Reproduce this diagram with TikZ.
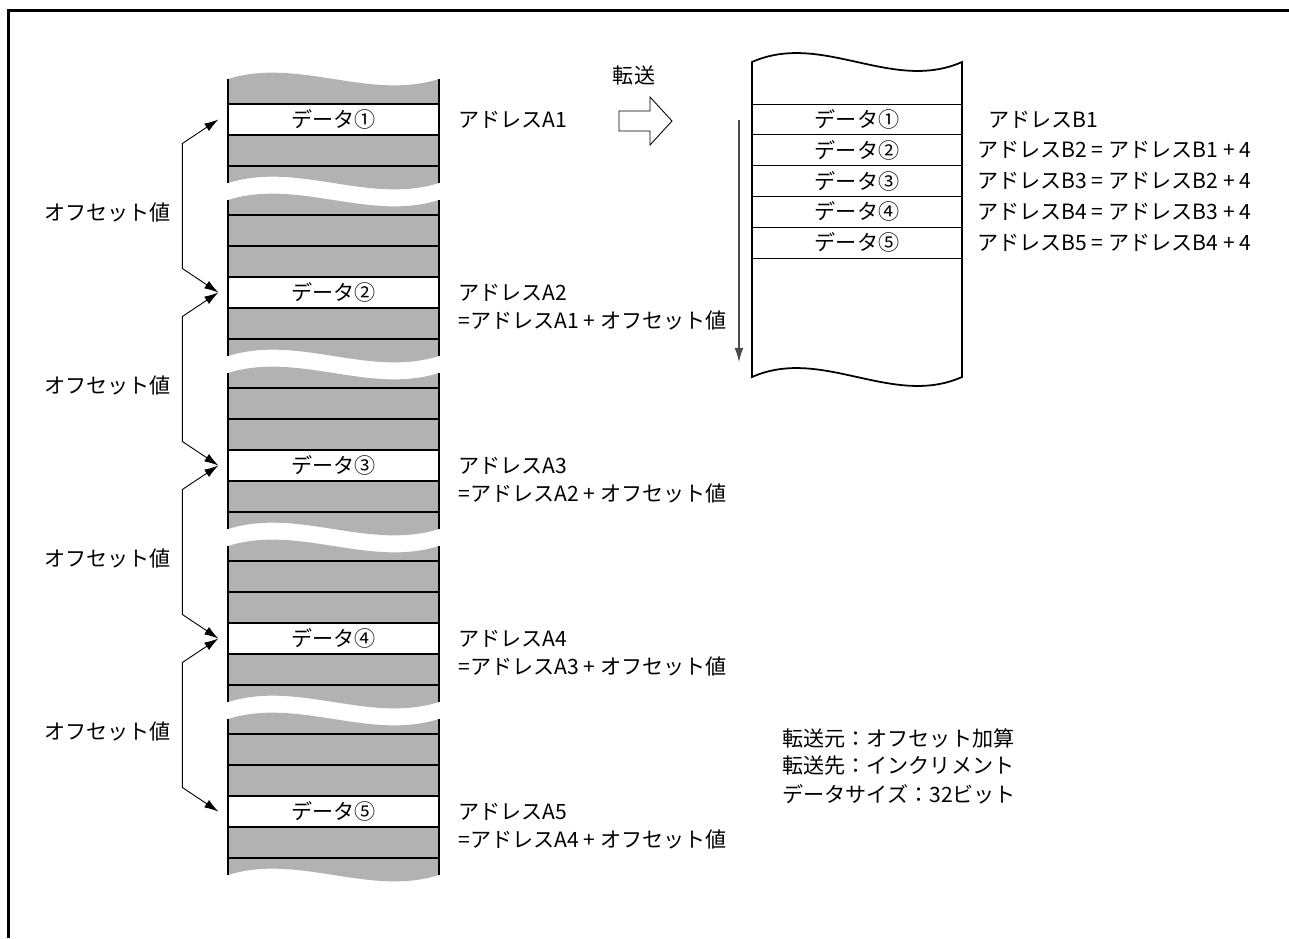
\documentclass[tikz,border=0pt]{standalone}
\usepackage{fontspec}
\setmainfont{Noto Sans CJK JP}
\usetikzlibrary{arrows.meta,positioning}

\begin{document}
\begin{tikzpicture}[x=0.02cm,y=-0.02cm,
  every node/.style={font=\fontsize{12}{14}\selectfont},
  datrow/.style={draw,line width=1pt,fill=white,minimum width=4.22cm,minimum height=0.62cm,inner sep=0pt},
  dstrow/.style={draw,line width=0.5pt,minimum width=4.2cm,minimum height=0.616cm,inner sep=0pt},
  ofsarr/.style={{Latex[length=8pt,width=5pt]}-{Latex[length=8pt,width=5pt]},line width=0.5pt},
  lbl/.style={anchor=west,inner sep=0pt}]
  \useasboundingbox (0,0) rectangle (1289,938);
  \draw[line width=1.7pt] (8.5,938) -- (8.5,10.5) -- (1289,10.5);
  % source area
  \def\blk(#1,#2){
    \fill[gray!60] (228,#1) .. controls (298,#1-22) and (369,#1+22) .. (439,#1)
      -- (439,#2) .. controls (369,#2+22) and (298,#2-22) .. (228,#2) -- cycle;
    \draw[line width=1pt] (228,#1) -- (228,#2) (439,#1) -- (439,#2);
  }
  \blk(79,183)
  \foreach \k in {1,...,4} {
    \pgfmathsetmacro\ta{27+173*\k}
    \pgfmathsetmacro\tb{183+173*\k}
    \blk(\ta,\tb)
    \draw[line width=1pt] (228,73+173*\k) -- (439,73+173*\k) (228,42+173*\k) -- (439,42+173*\k);
  }
  \foreach \dn [count=\i] in {①,②,③,④,⑤} {
    \pgfmathsetmacro\ty{104+173*(\i-1)}
    \draw[line width=1pt] (228,\ty+62) -- (439,\ty+62);
    \node[datrow] (a\i) at (333.5,\ty+15.5) {データ\dn};
  }
  \node[lbl] (la1) at (458,120) {アドレスA1};
  \foreach \i [evaluate=\i as \j using int(\i-1)] in {2,...,5} {
    \pgfmathsetmacro\ty{104+173*(\i-1)}
    \node[lbl] (la\i) at (458,\ty+15.5) {アドレスA\i};
    \node[lbl] (lc\i) at (458,\ty+43.5) {=アドレスA\j{} + オフセット値};
  }
  \foreach \i [evaluate=\i as \j using int(\i+1)] in {1,...,4}
    \draw[ofsarr] ([xshift=-5pt]a\i.west) -- ++(-36,24) -- ++(0,125)
      node[pos=0.55,left=3pt] {オフセット値} -- ([xshift=-5pt]a\j.west);
  % transfer
  \node (tr) at (634,75) {転送};
  \draw[line width=0.5pt] (619,111) -- (650,111) -- (650,97) -- (672,121)
    -- (650,145) -- (650,131) -- (619,131) -- cycle;
  % destination area
  \draw[line width=1pt] (752,62) .. controls (822,31) and (892,93) .. (962,62)
    -- (962,377) .. controls (892,408) and (822,346) .. (752,377) -- cycle;
  \foreach \dn [count=\i] in {①,②,③,④,⑤}
    \node[dstrow] (b\i) at (857,88.6+30.8*\i) {データ\dn};
  \coordinate (vs) at (739,120);
  \coordinate (ve) at (739,362);
  \draw[-{Latex[length=8pt,width=5pt]},black!70,line width=0.6pt] (vs) -- (ve);
  \node[lbl] (lb1) at (988,120) {アドレスB1};
  \foreach \i [evaluate=\i as \j using int(\i-1)] in {2,...,5}
    \node[lbl] (lb\i) at (977,88.6+30.8*\i) {アドレスB\i{} = アドレスB\j{} + 4};
  \foreach \s [count=\i] in {転送元：オフセット加算,転送先：インクリメント,データサイズ：32ビット}
    \node[lbl] (nt\i) at (782,710+28*\i) {\s};
\end{tikzpicture}
\end{document}
